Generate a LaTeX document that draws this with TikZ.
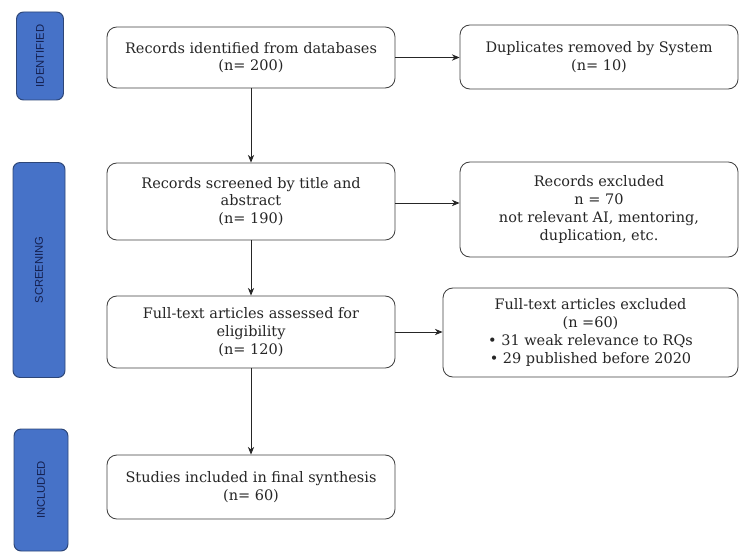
\documentclass[tikz,border=0pt]{standalone}
\usepackage{fontspec}
\setmainfont{DejaVu Serif}
\setsansfont{Liberation Sans}
\usetikzlibrary{arrows.meta}

\tikzset{
  stage box/.style={draw=black!75, rounded corners=7pt, line width=0.6pt,
                    fill=white, align=center, text=black!85,
                    font=\fontsize{10.3}{12.6}\selectfont, inner sep=2pt},
  phase band/.style={draw=bandline, fill=bandfill, rounded corners=5pt,
                     line width=0.7pt},
  phase label/.style={rotate=90, text=bandtext,
                      font=\sffamily\fontsize{8}{9}\selectfont},
  flow arrow/.style={-{Stealth[length=5.5pt,width=4.5pt]}, black!85, line width=0.6pt},
}
\definecolor{bandfill}{RGB}{70,114,200}
\definecolor{bandline}{RGB}{45,70,120}
\definecolor{bandtext}{RGB}{20,32,80}

\begin{document}
\begin{tikzpicture}[x=0.025cm, y=-0.025cm]
        % 1 unit = 1 px of a 740 x 557 canvas, y grows downwards
        % main column centre x = 251, right column x = 460..738
        \useasboundingbox (0,0) rectangle (740,557);

        % ---- phase bands (left) ----
        \node[phase band, minimum width=47*0.025cm, minimum height=88*0.025cm]
          (bandid) at (40,56) {};
        \node[phase label] at (bandid.center) {IDENTIFIED};
        \node[phase band, minimum width=52*0.025cm, minimum height=215*0.025cm]
          (bandscr) at (39,270) {};
        \node[phase label] at (bandscr.center) {SCREENING};
        \node[phase band, minimum width=54*0.025cm, minimum height=122*0.025cm]
          (bandinc) at (41,490) {};
        \node[phase label] at (bandinc.center) {INCLUDED};

        % ---- main column ----
        \node[stage box, minimum width=288*0.025cm, minimum height=61*0.025cm]
          (recid) at (251,57.5) {Records identified from databases\\(n= 200)};
        \node[stage box, minimum width=288*0.025cm, minimum height=77*0.025cm]
          (recscr) at (251,201.5) {Records screened by title and\\abstract\\(n= 190)};
        \node[stage box, minimum width=288*0.025cm, minimum height=72*0.025cm]
          (fulltext) at (251,332) {Full-text articles assessed for\\eligibility\\(n= 120)};
        \node[stage box, minimum width=288*0.025cm, minimum height=64*0.025cm]
          (studies) at (251,487) {Studies included in final synthesis\\(n= 60)};

        % ---- right column ----
        \node[stage box, minimum width=278*0.025cm, minimum height=64*0.025cm]
          (dupl) at (599,57) {Duplicates removed by System\\(n= 10)};
        \node[stage box, minimum width=278*0.025cm, minimum height=95*0.025cm]
          (recexc) at (599,209.5) {Records excluded\\n = 70\\not relevant AI, mentoring,\\duplication, etc.};
        \node[stage box, minimum width=295*0.025cm, minimum height=89*0.025cm]
          (fullexc) at (590.5,332.5) {Full-text articles excluded\\(n =60)\\%
            • 31 weak relevance to RQs\\• 29 published before 2020};

        % ---- arrows ----
        \draw[flow arrow] (recid) -- (recscr);
        \draw[flow arrow] (recscr) -- (fulltext);
        \draw[flow arrow] (fulltext) -- (studies);
        \draw[flow arrow] (recid.east) -- (recid.east -| dupl.west);
        \draw[flow arrow] (recscr.east |- 0,203) -- (dupl.west |- 0,203);
        \draw[flow arrow] (fulltext.east) -- (fulltext.east -| fullexc.west);
      \end{tikzpicture}
\end{document}
